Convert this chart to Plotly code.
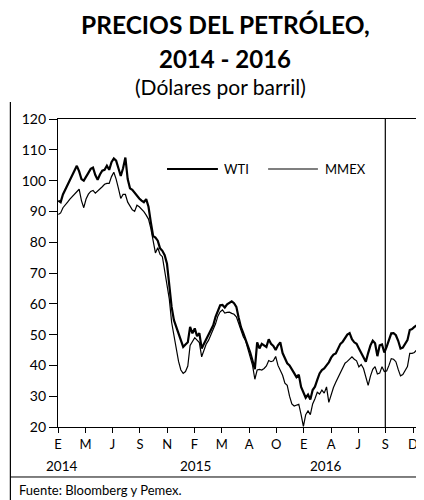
import pandas as pd
import plotly.graph_objects as go

# Weekly observations (Fridays), Jan 2014 - Dec 2016
dates = pd.date_range("2014-01-03", "2016-12-30", freq="W-FRI")

wti = [
    93.5, 93.0, 95.5, 97.0, 99.0, 100.5, 101.5, 103.5, 104.8, 103.0,
    100.5, 100.0, 101.5, 102.5, 103.8, 104.2, 101.8, 100.3, 102.0, 103.2,
    103.5, 104.8, 103.5, 106.0, 107.2, 106.5, 104.0, 101.5, 104.0, 107.5,
    100.5, 97.5, 97.0, 96.0, 94.8, 94.2, 93.5, 93.0, 94.0, 91.5,
    86.5, 82.0, 81.5, 80.5, 78.0, 77.2, 75.8, 73.0, 66.0, 59.0,
    54.7, 52.6, 50.2, 48.0, 46.0, 46.8, 47.5, 52.5, 50.4, 52.0,
    49.5, 50.5, 45.5, 47.0, 48.5, 50.5, 51.5, 53.0, 55.8, 58.0,
    59.5, 59.6, 58.8, 59.8, 60.2, 60.8, 60.2, 59.0, 55.5, 52.4,
    50.5, 48.5, 46.2, 44.2, 41.5, 38.8, 47.5, 45.5, 47.0, 46.5,
    46.0, 48.5, 47.0, 46.3, 45.0, 46.5, 47.5, 44.0, 42.5, 40.7,
    40.0, 38.5, 37.5, 36.2, 37.0, 33.0, 31.0, 29.5, 30.5, 28.9,
    32.0, 33.1, 35.3, 37.4, 38.5, 39.0, 40.0, 41.0, 42.5, 43.5,
    43.9, 45.5, 47.0, 47.7, 49.0, 50.0, 50.5, 48.5, 47.5, 47.0,
    45.5, 44.0, 42.5, 41.2, 44.0, 46.5, 48.0, 47.2, 43.0, 46.5,
    46.8, 44.2, 46.0, 48.5, 50.4, 50.5, 49.8, 48.0, 45.5, 45.8,
    47.2, 48.2, 51.5, 51.8, 52.5, 53.0, 54.2,
]

mmex = [
    89.0, 89.5, 91.2, 92.0, 93.0, 94.0, 94.8, 95.5, 96.5, 97.2,
    93.5, 91.2, 94.0, 95.6, 96.5, 96.8, 95.9, 96.5, 97.2, 98.0,
    98.8, 99.1, 99.1, 101.3, 102.7, 100.5, 97.5, 94.2, 95.5, 95.5,
    93.0, 91.8, 90.5, 90.0, 92.0, 91.5, 90.8, 89.9, 88.8, 87.5,
    84.5, 80.0, 76.5, 78.2, 76.0, 75.3, 71.0, 67.2, 61.5, 54.0,
    49.3, 45.5, 41.3, 38.5, 37.4, 38.0, 39.8, 46.5, 47.7, 49.0,
    48.2, 47.4, 42.8, 44.8, 47.0, 48.2, 50.0, 51.8, 53.5, 56.0,
    57.4, 58.0, 57.0, 57.2, 57.3, 56.9, 56.6, 55.8, 53.5, 51.0,
    49.3, 48.0, 45.3, 42.5, 40.0, 35.5, 38.5, 38.7, 38.5, 39.0,
    39.8, 41.6, 41.2, 41.5, 42.9, 40.0, 38.2, 36.8, 34.2, 33.5,
    30.0, 27.5, 26.8, 27.0, 27.4, 24.0, 20.2, 24.0, 25.2, 24.0,
    27.5, 29.2, 31.3, 30.7, 32.0, 31.0, 33.0, 28.0, 30.5, 32.8,
    34.5, 36.0, 37.5, 39.0, 40.7, 41.3, 42.2, 42.8, 42.0, 41.5,
    39.5, 40.3, 39.0, 36.5, 33.5, 36.5, 38.7, 39.6, 37.2, 37.5,
    39.6, 38.0, 38.2, 40.0, 42.2, 42.0, 41.2, 38.7, 36.6, 37.0,
    38.5, 39.6, 43.9, 43.9, 44.2, 45.0, 45.3,
]

tick_dates = ["2014-01-02", "2014-03-26", "2014-06-16", "2014-09-07", "2014-11-29",
              "2015-02-19", "2015-05-13", "2015-08-04", "2015-10-25", "2016-01-16",
              "2016-04-08", "2016-06-29", "2016-09-19", "2016-12-12"]
tick_labels = ["E", "M", "J", "S", "N", "F", "M", "A", "O", "E", "A", "J", "S", "D"]
year_labels = ["2014", "2015", "2016"]
marker_date = "2016-09-19"

FONT = "Lato"

fig = go.Figure()
fig.add_trace(go.Scatter(x=dates, y=mmex, mode="lines", name="MMEX",
                         line=dict(color="black", width=1.2), showlegend=False))
fig.add_trace(go.Scatter(x=dates, y=wti, mode="lines", name="WTI",
                         line=dict(color="black", width=2.2), showlegend=False))

# page body has an 8px margin, so the figure is drawn 8px smaller and offset
fig.update_layout(
    width=416, height=492,
    margin=dict(l=50, r=5, t=111, b=73),
    paper_bgcolor="white", plot_bgcolor="white",
    font=dict(family=FONT, color="black", size=13),
    showlegend=False,
)
fig.update_xaxes(
    type="date", range=["2014-01-02", "2016-12-30"],
    tickmode="array", tickvals=tick_dates, ticktext=tick_labels,
    ticks="outside", ticklen=5, tickwidth=1, tickcolor="black",
    showline=True, linecolor="black", linewidth=1.3, mirror=True,
    showgrid=False, zeroline=False,
    tickfont=dict(family=FONT, size=13, color="black"),
)
fig.update_yaxes(
    range=[20, 120], tick0=20, dtick=10,
    ticks="outside", ticklen=8, tickwidth=1, tickcolor="black",
    showline=True, linecolor="black", linewidth=1.3, mirror=True,
    showgrid=False, zeroline=False,
    tickfont=dict(family=FONT, size=14, color="black"),
)

# vertical reference line
fig.add_shape(type="line", xref="x", yref="paper", x0=marker_date, x1=marker_date,
              y0=0, y1=1, line=dict(color="black", width=1.2))

# manual legend
leg_y = 0.8377
fig.add_shape(type="line", xref="paper", yref="paper", x0=0.302, x1=0.443,
              y0=leg_y, y1=leg_y, line=dict(color="black", width=2.2))
fig.add_annotation(x=0.454, y=leg_y, xref="paper", yref="paper", text="WTI",
                   showarrow=False, xanchor="left", yanchor="middle",
                   font=dict(family=FONT, size=13))
fig.add_shape(type="line", xref="paper", yref="paper", x0=0.582, x1=0.720,
              y0=leg_y, y1=leg_y, line=dict(color="black", width=1.2))
fig.add_annotation(x=0.733, y=leg_y, xref="paper", yref="paper", text="MMEX",
                   showarrow=False, xanchor="left", yanchor="middle",
                   font=dict(family=FONT, size=13))

# year labels
for txt, xp in zip(year_labels, [0.009, 0.38, 0.742]):
    fig.add_annotation(x=xp, y=-0.1266, xref="paper", yref="paper", text=txt,
                       showarrow=False, xanchor="center", yanchor="middle",
                       font=dict(family=FONT, size=13.5))

# titles
fig.add_annotation(x=0.4627, y=1.3084, xref="paper", yref="paper",
                   text="<b>PRECIOS DEL PETRÓLEO,</b>", showarrow=False,
                   xanchor="center", yanchor="middle", font=dict(family=FONT, size=24.5))
fig.add_annotation(x=0.4627, y=1.198, xref="paper", yref="paper",
                   text="<b>2014 - 2016</b>", showarrow=False,
                   xanchor="center", yanchor="middle", font=dict(family=FONT, size=24))
fig.add_annotation(x=0.449, y=1.107, xref="paper", yref="paper",
                   text="(Dólares por barril)", showarrow=False,
                   xanchor="center", yanchor="middle", font=dict(family=FONT, size=21))

# source note and frame lines
fig.add_annotation(x=-0.1126, y=-0.2045, xref="paper", yref="paper",
                   text="Fuente: Bloomberg y Pemex.", showarrow=False,
                   xanchor="left", yanchor="middle", font=dict(family=FONT, size=13))
fig.add_shape(type="line", xref="paper", yref="paper", x0=-0.1319, x1=-0.1319,
              y0=1.055, y1=-0.237, line=dict(color="black", width=1.2))
fig.add_shape(type="line", xref="paper", yref="paper", x0=-0.1319, x1=1.0133,
              y0=-0.1623, y1=-0.1623, line=dict(color="black", width=1))

fig.write_html("out.html")
